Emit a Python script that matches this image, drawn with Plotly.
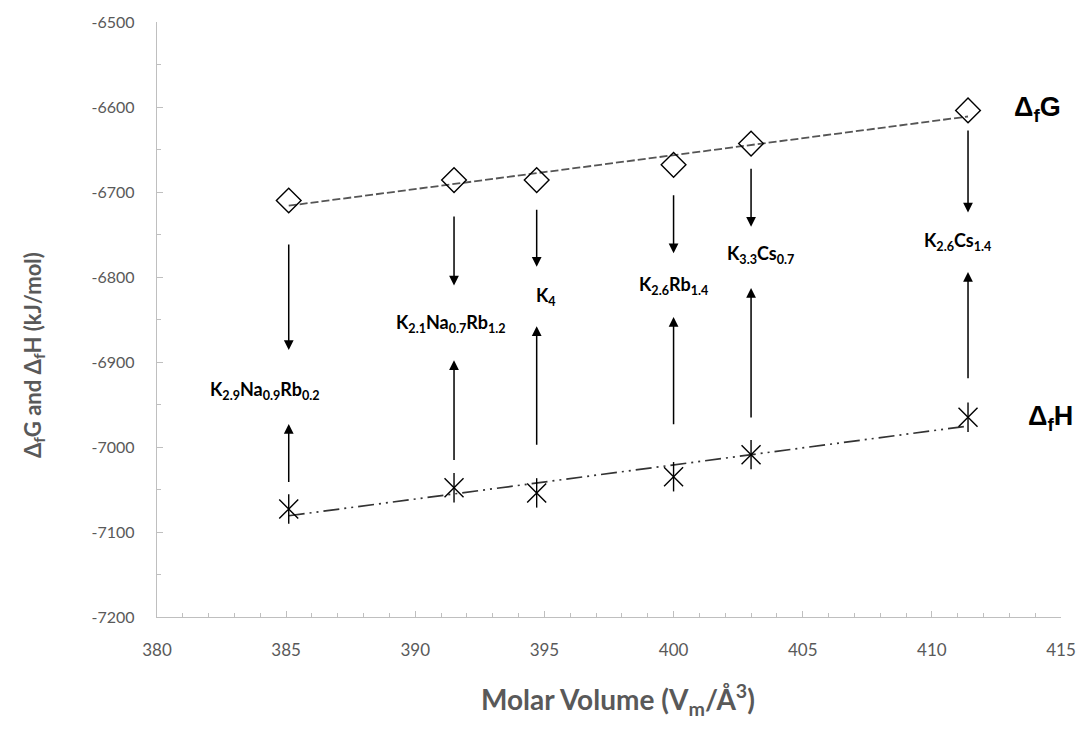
import numpy as np
import plotly.graph_objects as go

# ---- data ----
molar_volume = [385.1, 391.5, 394.7, 400.0, 403.0, 411.4]
delta_g = [-6710, -6686, -6686, -6668, -6643, -6604]
delta_h = [-7073, -7048, -7054, -7035, -7009, -6965]
compounds = [
    "K<sub>2.9</sub>Na<sub>0.9</sub>Rb<sub>0.2</sub>",
    "K<sub>2.1</sub>Na<sub>0.7</sub>Rb<sub>1.2</sub>",
    "K<sub>4</sub>",
    "K<sub>2.6</sub>Rb<sub>1.4</sub>",
    "K<sub>3.3</sub>Cs<sub>0.7</sub>",
    "K<sub>2.6</sub>Cs<sub>1.4</sub>",
]
label_x = [384.2, 391.4, 395.05, 400.0, 403.35, 411.0]
label_y = [-6934, -6855, -6823, -6810, -6774, -6758]
down_start = [-6760, -6727, -6719, -6702, -6671, -6626]
down_end = [-6886, -6810, -6788, -6772, -6741, -6724]
up_start = [-7043, -7017, -6999, -6975, -6967, -6921]
up_end = [-6973, -6898, -6858, -6847, -6813, -6794]

x_ticks = [380, 385, 390, 395, 400, 405, 410, 415]
x_tick_labels = ["380", "385", "390", "395", "400", "405", "410", "415"]
y_ticks = [-7200, -7100, -7000, -6900, -6800, -6700, -6600, -6500]
y_tick_labels = ["-7200", "-7100", "-7000", "-6900", "-6800", "-6700", "-6600", "-6500"]

# ---- trend lines (linear fits) ----
xv = np.array(molar_volume)
pg = np.polyfit(xv, np.array(delta_g), 1)
ph = np.polyfit(xv, np.array(delta_h), 1)
xfit = [min(molar_volume), max(molar_volume)]

fig = go.Figure()
fig.add_trace(go.Scatter(x=xfit, y=np.polyval(pg, xfit), mode="lines",
                         line=dict(color="#555555", width=1.8, dash="8px,3px"),
                         showlegend=False, hoverinfo="skip"))
fig.add_trace(go.Scatter(x=xfit, y=np.polyval(ph, xfit), mode="lines",
                         line=dict(color="#333333", width=1.7,
                                   dash="16px,5px,2px,5px,2px,5px"),
                         showlegend=False, hoverinfo="skip"))
fig.add_trace(go.Scatter(x=molar_volume, y=delta_g, mode="markers",
                         marker=dict(symbol="diamond-open", size=19,
                                     color="black", line=dict(width=1.4)),
                         showlegend=False))
# six-armed asterisk: an X plus a vertical stroke
fig.add_trace(go.Scatter(x=molar_volume, y=delta_h, mode="markers",
                         marker=dict(symbol="x-thin-open", size=19,
                                     color="black", line=dict(width=1.4, color="black")),
                         showlegend=False))
fig.add_trace(go.Scatter(x=molar_volume, y=delta_h, mode="markers",
                         marker=dict(symbol="line-ns-open", size=21,
                                     color="black", line=dict(width=1.4, color="black")),
                         showlegend=False))

annotations = []
lab_font = dict(family="Lato", size=18, color="black")
for i in range(len(molar_volume)):
    xa = molar_volume[i]
    annotations.append(dict(x=xa, y=down_end[i], ax=xa, ay=down_start[i],
                            xref="x", yref="y", axref="x", ayref="y",
                            text="", showarrow=True, arrowhead=2, arrowsize=1.3,
                            arrowwidth=1.5, arrowcolor="black"))
    annotations.append(dict(x=xa, y=up_end[i], ax=xa, ay=up_start[i],
                            xref="x", yref="y", axref="x", ayref="y",
                            text="", showarrow=True, arrowhead=2, arrowsize=1.3,
                            arrowwidth=1.5, arrowcolor="black"))
    annotations.append(dict(x=label_x[i], y=label_y[i], xref="x", yref="y",
                            text="<b>" + compounds[i] + "</b>", showarrow=False,
                            font=lab_font))

annotations.append(dict(x=414.1, y=-6602, xref="x", yref="y",
                        text="<b>Δ<sub>f</sub>G</b>", showarrow=False,
                        font=dict(family="Liberation Sans", size=27, color="black")))
annotations.append(dict(x=414.6, y=-6966, xref="x", yref="y",
                        text="<b>Δ<sub>f</sub>H</b>", showarrow=False,
                        font=dict(family="Liberation Sans", size=27, color="black")))

annotations.append(dict(x=0.51, y=-0.177, xref="paper", yref="paper",
                        text="<b>Molar Volume (V<sub>m</sub>/Å<sup>3</sup>)</b>",
                        showarrow=False,
                        font=dict(family="Lato", size=28, color="#595959")))
annotations.append(dict(x=-0.155, y=0.44, xref="paper", yref="paper",
                        text="<b>Δ<sub>f</sub>G and Δ<sub>f</sub>H (kJ/mol)</b>",
                        showarrow=False, textangle=-90,
                        font=dict(family="Lato", size=22, color="#595959")))

axis_common = dict(showgrid=False, zeroline=False, showline=True,
                   linecolor="#BFBFBF", linewidth=1.3, ticks="inside",
                   tickcolor="#BFBFBF", ticklen=6, tickwidth=1.3)

fig.update_layout(
    width=1088, height=734,
    margin=dict(l=157, r=16, t=12, b=117),
    plot_bgcolor="white", paper_bgcolor="white",
    xaxis=dict(range=[380, 415], tickvals=x_ticks, ticktext=x_tick_labels,
               minor=dict(dtick=1, ticklen=4, ticks="inside", tickcolor="#BFBFBF"),
               ticklabelstandoff=17,
               tickfont=dict(family="Lato", size=17, color="#595959"),
               **axis_common),
    yaxis=dict(range=[-7200, -6500], tickvals=y_ticks, ticktext=y_tick_labels,
               minor=dict(dtick=50, ticklen=4, ticks="inside", tickcolor="#BFBFBF"),
               ticklabelstandoff=18,
               tickfont=dict(family="Lato", size=16, color="#595959"),
               **axis_common),
    annotations=annotations,
)

fig.write_html("out.html")
